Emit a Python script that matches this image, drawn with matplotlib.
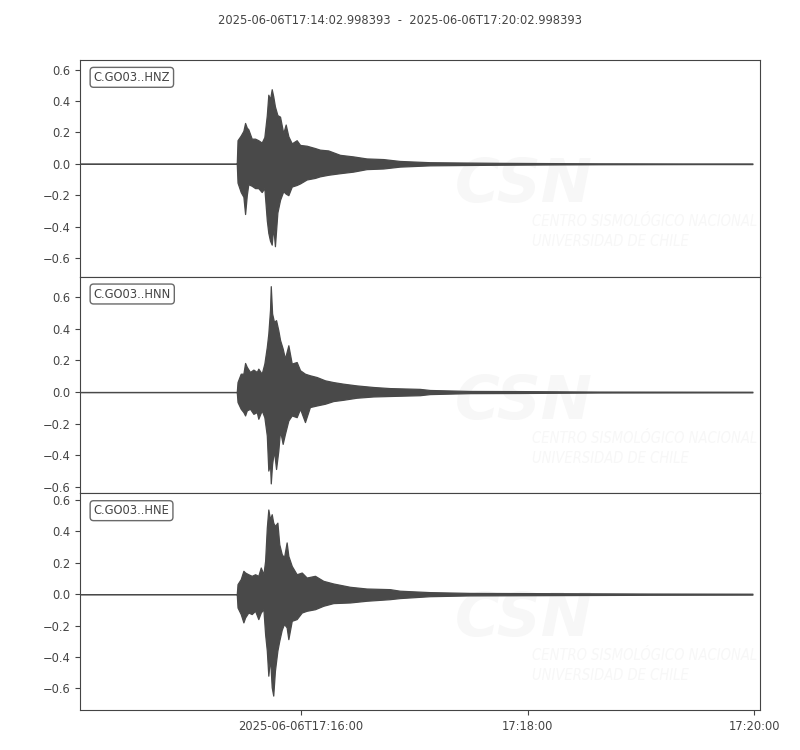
import datetime as dt
import matplotlib
matplotlib.use('Agg')
import matplotlib.pyplot as plt
import matplotlib.dates as mdates

start = dt.datetime(2025, 6, 6, 17, 14, 2, 998393)
end = start + dt.timedelta(seconds=360)
title = '2025-06-06T17:14:02.998393  -  2025-06-06T17:20:02.998393'

channels = ['C.GO03..HNZ', 'C.GO03..HNN', 'C.GO03..HNE']
ylims = [(-0.719, 0.661), (-0.641, 0.730), (-0.739, 0.643)]
yticks = [-0.6, -0.4, -0.2, 0.0, 0.2, 0.4, 0.6]
xtick_times = [dt.datetime(2025, 6, 6, 17, 16), dt.datetime(2025, 6, 6, 17, 18),
               dt.datetime(2025, 6, 6, 17, 20)]
xtick_labels = ['2025-06-06T17:16:00', '17:18:00', '17:20:00']

# trace envelopes (seconds after start, upper, lower)
hnz_t = [0, 83.0, 83.4, 85.1, 86.5, 87.4, 88.3, 89.1, 90.9, 92.7, 94.4, 96.2, 97.6,
         98.9, 99.7, 100.6, 101.5, 102.3, 103.2, 104.5, 105.9, 107.6, 108.9, 110.3,
         112.1, 114.7, 116.5, 120.0, 124.4, 127.0, 131.4, 137.6, 144.6, 151.7, 160.5,
         169.3, 185.2, 202.7, 222.2, 253.9, 275.0, 327.9, 356]
hnz_up = [0, 0, 0.15, 0.18, 0.21, 0.26, 0.23, 0.22, 0.16, 0.16, 0.15, 0.135, 0.17,
          0.31, 0.44, 0.41, 0.475, 0.43, 0.365, 0.31, 0.30, 0.195, 0.25, 0.175,
          0.13, 0.15, 0.12, 0.115, 0.10, 0.09, 0.085, 0.057, 0.047, 0.034, 0.03,
          0.018, 0.01, 0.008, 0.006, 0.004, 0.003, 0.002, 0.002]
hnz_lo = [0, 0, -0.12, -0.18, -0.21, -0.32, -0.20, -0.13, -0.14, -0.155, -0.155, -0.18, -0.155,
          -0.36, -0.44, -0.49, -0.515, -0.40, -0.525, -0.31, -0.23, -0.175, -0.19, -0.20,
          -0.145, -0.135, -0.125, -0.10, -0.09, -0.08, -0.07, -0.06, -0.05, -0.034, -0.03,
          -0.018, -0.01, -0.008, -0.006, -0.004, -0.003, -0.002, -0.002]

hnn_t = [0, 83.0, 83.4, 85.1, 86.5, 87.4, 88.3, 90.0, 91.8, 93.6, 94.4, 96.2, 97.6,
         98.9, 99.7, 100.6, 101.0, 101.7, 102.7, 103.8, 105.0, 105.9, 107.3, 108.5,
         110.3, 112.1, 114.7, 116.5, 119.1, 121.7, 125.3, 129.7, 134.1, 139.3, 146.4,
         155.2, 164.0, 179.9, 185.2, 206.3, 232.8, 275.0, 356]
hnn_up = [0, 0, 0.063, 0.116, 0.116, 0.184, 0.159, 0.127, 0.142, 0.127, 0.148, 0.116, 0.18,
          0.286, 0.37, 0.52, 0.67, 0.497, 0.444, 0.455, 0.39, 0.33, 0.275, 0.212,
          0.296, 0.18, 0.19, 0.138, 0.116, 0.106, 0.095, 0.074, 0.063, 0.053, 0.042,
          0.032, 0.025, 0.02, 0.013, 0.007, 0.006, 0.003, 0.002]
hnn_lo = [0, 0, -0.063, -0.106, -0.127, -0.148, -0.116, -0.106, -0.138, -0.127, -0.169, -0.116, -0.159,
          -0.275, -0.497, -0.455, -0.578, -0.455, -0.37, -0.487, -0.37, -0.243, -0.328, -0.265,
          -0.18, -0.148, -0.159, -0.106, -0.19, -0.095, -0.085, -0.074, -0.057, -0.049, -0.036,
          -0.028, -0.025, -0.02, -0.013, -0.007, -0.006, -0.003, -0.002]

hne_t = [0, 83.0, 83.4, 85.1, 86.5, 87.4, 89.1, 90.9, 92.7, 94.4, 95.7, 97.1, 98.0,
         98.9, 99.7, 100.6, 101.5, 102.3, 103.2, 104.5, 105.5, 106.8, 108.0, 109.4,
         110.3, 112.1, 114.7, 117.4, 120.0, 124.4, 128.8, 134.1, 142.9, 151.7, 164.0,
         169.3, 185.2, 206.3, 253.9, 301.5, 356]
hne_up = [0, 0, 0.064, 0.096, 0.149, 0.138, 0.127, 0.117, 0.127, 0.117, 0.17, 0.127, 0.212,
          0.425, 0.54, 0.478, 0.51, 0.456, 0.435, 0.456, 0.318, 0.255, 0.234, 0.33,
          0.244, 0.18, 0.127, 0.138, 0.106, 0.117, 0.085, 0.068, 0.047, 0.036, 0.032,
          0.022, 0.013, 0.008, 0.006, 0.004, 0.003]
hne_lo = [0, 0, -0.085, -0.127, -0.18, -0.149, -0.117, -0.127, -0.106, -0.159, -0.117, -0.096, -0.255,
          -0.36, -0.52, -0.403, -0.594, -0.647, -0.488, -0.36, -0.297, -0.227, -0.19, -0.212,
          -0.287, -0.17, -0.159, -0.117, -0.106, -0.096, -0.074, -0.057, -0.053, -0.042, -0.032,
          -0.025, -0.013, -0.008, -0.006, -0.004, -0.003]

traces = [(hnz_t, hnz_up, hnz_lo), (hnn_t, hnn_up, hnn_lo), (hne_t, hne_up, hne_lo)]

fg = '#444444'
wave = '#494949'
mark = '#f7f7f7'
plt.rcParams['font.family'] = 'DejaVu Sans'
plt.rcParams['text.color'] = fg
plt.rcParams['xtick.color'] = fg
plt.rcParams['ytick.color'] = fg
plt.rcParams['axes.edgecolor'] = fg

fig, axes = plt.subplots(3, 1, figsize=(8, 7.5), dpi=100, sharex=True)
fig.subplots_adjust(left=0.1, right=0.95, top=0.92, bottom=0.0533, hspace=0)

for ax, name, (t, up, lo), yl in zip(axes, channels, traces, ylims):
    times = mdates.date2num([start + dt.timedelta(seconds=s) for s in t])
    ax.fill_between(times, lo, up, color=wave, edgecolor=wave, linewidth=0.9, zorder=3)
    # faint CSN watermark
    ax.text(0.551, 0.42, 'CSN', transform=ax.transAxes, fontsize=44, fontweight='bold',
            style='italic', color=mark, va='center', ha='left', zorder=1)
    ax.text(0.665, 0.253, 'CENTRO SISMOLÓGICO NACIONAL', transform=ax.transAxes,
            fontsize=10.5, style='italic', color=mark, va='center', ha='left',
            fontstretch='condensed', zorder=1)
    ax.text(0.665, 0.161, 'UNIVERSIDAD DE CHILE', transform=ax.transAxes,
            fontsize=10.5, style='italic', color=mark, va='center', ha='left',
            fontstretch='condensed', zorder=1)
    ax.text(0.02, 0.95, name, transform=ax.transAxes, va='top', ha='left', fontsize=8.3,
            color=fg, zorder=5,
            bbox=dict(boxstyle='round', fc='w', ec=fg, alpha=0.8))
    ax.set_ylim(*yl)
    ax.set_yticks(yticks)
    ax.tick_params(axis='y', labelsize=8.3)
    ax.set_xlim(mdates.date2num(start), mdates.date2num(end))

for ax in axes[:-1]:
    ax.tick_params(axis='x', bottom=False, labelbottom=False)

axes[-1].set_xticks(mdates.date2num(xtick_times))
axes[-1].set_xticklabels(xtick_labels)
axes[-1].tick_params(axis='x', labelsize=8.3)

fig.suptitle(title, fontsize=8.3, y=0.973, va='center', color=fg)

plt.savefig('out.png', dpi=100)
